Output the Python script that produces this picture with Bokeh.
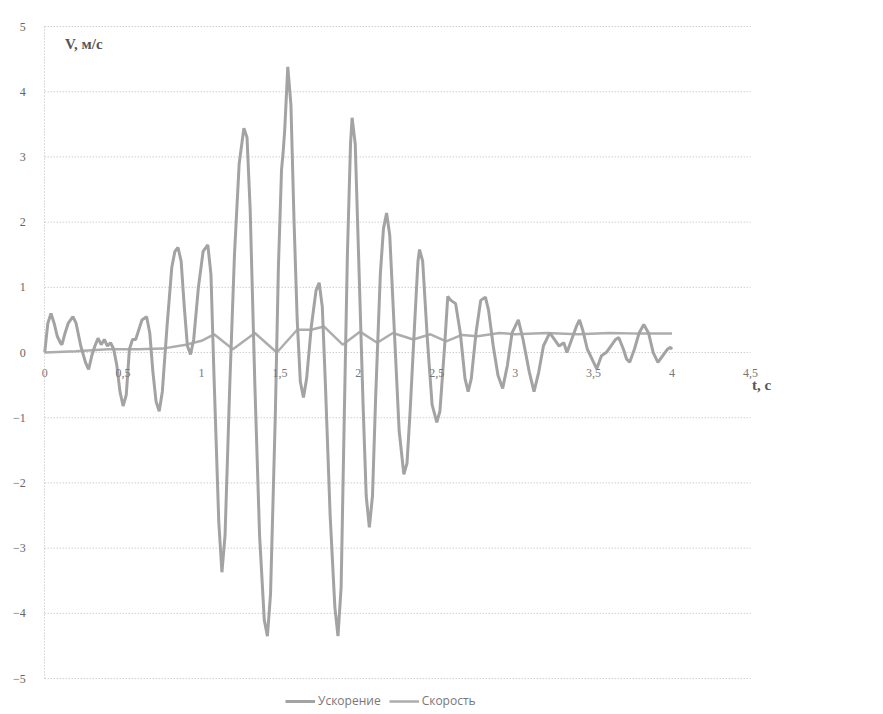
from bokeh.plotting import figure
from bokeh.models import Legend, LegendItem, Label, Range1d, FixedTicker
from bokeh.embed import file_html
from bokeh.resources import INLINE

# Ускорение (large oscillation)
t_acc = [0.00, 0.02, 0.04, 0.06, 0.08, 0.10, 0.11, 0.13, 0.15, 0.18, 0.20, 0.23, 0.26, 0.28,
         0.30, 0.32, 0.34, 0.36, 0.38, 0.40, 0.42, 0.44, 0.46, 0.48, 0.50, 0.52, 0.54, 0.56,
         0.58, 0.60, 0.62, 0.65, 0.67, 0.69, 0.71, 0.73, 0.75, 0.78, 0.81, 0.83, 0.85, 0.87,
         0.89, 0.91, 0.93, 0.95, 0.98, 1.01, 1.04, 1.06, 1.08, 1.11, 1.13, 1.15, 1.18, 1.21,
         1.24, 1.27, 1.29, 1.31, 1.34, 1.37, 1.40, 1.42, 1.44, 1.47, 1.49, 1.51, 1.52, 1.53,
         1.55, 1.57, 1.59, 1.61, 1.63, 1.65, 1.67, 1.70, 1.73, 1.75, 1.77, 1.79, 1.82, 1.85,
         1.87, 1.89, 1.91, 1.93, 1.95, 1.96, 1.98, 2.00, 2.03, 2.05, 2.07, 2.09, 2.11, 2.14,
         2.16, 2.18, 2.20, 2.23, 2.26, 2.29, 2.31, 2.33, 2.36, 2.38, 2.39, 2.41, 2.44, 2.47,
         2.50, 2.52, 2.55, 2.57, 2.59, 2.62, 2.65, 2.68, 2.70, 2.72, 2.75, 2.78, 2.81, 2.83,
         2.86, 2.89, 2.92, 2.95, 2.98, 3.02, 3.05, 3.09, 3.12, 3.15, 3.18, 3.22, 3.25, 3.28,
         3.31, 3.33, 3.36, 3.39, 3.41, 3.43, 3.46, 3.49, 3.52, 3.55, 3.58, 3.61, 3.64, 3.66,
         3.69, 3.71, 3.73, 3.76, 3.79, 3.82, 3.85, 3.88, 3.91, 3.94, 3.97, 3.99, 4.00]
v_acc = [0.00, 0.45, 0.60, 0.45, 0.25, 0.15, 0.12, 0.30, 0.45, 0.55, 0.45, 0.10, -0.15, -0.26,
         -0.05, 0.10, 0.22, 0.12, 0.20, 0.10, 0.15, 0.05, -0.20, -0.60, -0.82, -0.65, 0.05, 0.20,
         0.20, 0.35, 0.50, 0.55, 0.30, -0.30, -0.75, -0.90, -0.60, 0.40, 1.30, 1.55, 1.61, 1.40,
         0.70, 0.10, -0.03, 0.20, 1.00, 1.55, 1.65, 1.20, -0.40, -2.60, -3.37, -2.80, -0.50, 1.50,
         2.90, 3.44, 3.30, 2.20, -0.50, -2.80, -4.10, -4.35, -3.70, -1.00, 1.30, 2.80, 3.06, 3.40,
         4.38, 3.80, 2.00, 0.50, -0.45, -0.69, -0.40, 0.40, 0.95, 1.07, 0.70, -0.50, -2.50, -3.90,
         -4.35, -3.60, -1.00, 1.50, 3.20, 3.60, 3.20, 1.60, -0.80, -2.20, -2.68, -2.20, -0.70, 1.20,
         1.90, 2.14, 1.80, 0.30, -1.20, -1.87, -1.70, -0.90, 0.50, 1.40, 1.58, 1.40, 0.20, -0.80,
         -1.07, -0.90, 0.10, 0.86, 0.80, 0.75, 0.30, -0.40, -0.60, -0.40, 0.30, 0.80, 0.85, 0.65,
         0.10, -0.35, -0.55, -0.20, 0.30, 0.50, 0.20, -0.30, -0.60, -0.30, 0.10, 0.30, 0.20, 0.10,
         0.15, 0.00, 0.20, 0.40, 0.50, 0.35, 0.05, -0.10, -0.25, -0.05, 0.00, 0.10, 0.20, 0.23,
         0.05, -0.10, -0.15, 0.05, 0.30, 0.43, 0.30, 0.00, -0.15, -0.05, 0.05, 0.08, 0.05]

# Скорость (small smooth line)
t_vel = [0.00, 0.20, 0.40, 0.60, 0.75, 0.90, 1.00, 1.08, 1.20, 1.34, 1.48, 1.61, 1.70, 1.78,
         1.90, 2.01, 2.12, 2.22, 2.35, 2.46, 2.56, 2.66, 2.76, 2.90, 3.00, 3.20, 3.40, 3.60,
         3.80, 4.00]
v_vel = [0.00, 0.02, 0.05, 0.05, 0.06, 0.12, 0.18, 0.28, 0.05, 0.30, 0.00, 0.35, 0.35, 0.40,
         0.12, 0.32, 0.15, 0.30, 0.20, 0.28, 0.17, 0.27, 0.25, 0.30, 0.28, 0.30, 0.28, 0.30,
         0.29, 0.29]

x_ticks = [0, 0.5, 1, 1.5, 2, 2.5, 3, 3.5, 4, 4.5]
x_tick_labels = ["0", "0,5", "1", "1,5", "2", "2,5", "3", "3,5", "4", "4,5"]
y_ticks = [-5, -4, -3, -2, -1, 0, 1, 2, 3, 4, 5]

SERIF = "Liberation Serif"
GRID = "#b8b8b8"

p = figure(frame_width=792, frame_height=704, output_backend="svg", toolbar_location=None,
           x_range=Range1d(-0.25, 4.8), y_range=Range1d(-5.49, 5.307),
           min_border_left=5, min_border_right=83, min_border_top=6, min_border_bottom=0,
           background_fill_color="white", border_fill_color="white")
p.outline_line_color = None
p.xgrid.grid_line_color = None
p.ygrid.grid_line_color = None

# horizontal dotted gridlines spanning the tick extent of the time axis
p.segment(x0=[x_ticks[0]] * len(y_ticks), x1=[x_ticks[-1]] * len(y_ticks),
          y0=y_ticks, y1=y_ticks, line_color=GRID, line_dash="1 2", line_width=1)

# y axis at t = 0
p.yaxis.fixed_location = 0
p.yaxis.bounds = (y_ticks[0], y_ticks[-1])
p.yaxis.ticker = FixedTicker(ticks=y_ticks)
p.yaxis.axis_line_color = GRID
p.yaxis.axis_line_dash = "1 2"
p.yaxis.major_tick_line_color = None
p.yaxis.minor_tick_line_color = None
p.yaxis.major_label_text_font = SERIF
p.yaxis.major_label_text_font_size = "12px"
p.yaxis.major_label_text_color = "#666666"
p.yaxis.major_label_standoff = 13

# x axis along zero line
p.xaxis.fixed_location = 0
p.xaxis.ticker = FixedTicker(ticks=x_ticks)
p.xaxis.major_label_overrides = {t: s for t, s in zip(x_ticks, x_tick_labels)}
p.xaxis.axis_line_color = None
p.xaxis.major_tick_line_color = None
p.xaxis.minor_tick_line_color = None
p.xaxis.major_label_text_font = SERIF
p.xaxis.major_label_text_font_size = "12px"
p.xaxis.major_label_text_color = "#777777"
p.xaxis.major_label_standoff = 10

r_vel = p.line(t_vel, v_vel, line_color="#adadad", line_width=2.5)
r_acc = p.line(t_acc, v_acc, line_color="#a3a3a3", line_width=3)

p.add_layout(Label(x=0.13, y=4.85, text="V, м/с", text_font=SERIF, text_font_style="bold",
                   text_font_size="15px", text_color="#555555", text_baseline="top"))
p.add_layout(Label(x=4.51, y=-0.5, text="t, с", text_font=SERIF, text_font_style="bold",
                   text_font_size="15px", text_color="#555555", text_baseline="middle"))

legend = Legend(items=[LegendItem(label="Ускорение", renderers=[r_acc]),
                       LegendItem(label="Скорость", renderers=[r_vel])],
                orientation="horizontal", location=(280, 1),
                background_fill_alpha=0, border_line_color=None,
                label_text_font="Open Sans", label_text_font_size="12px",
                label_text_color="#777777", glyph_width=30, glyph_height=12,
                label_height=14, label_standoff=3, spacing=8, padding=0, margin=0)
p.add_layout(legend, "center")

open("out.html", "w").write(file_html(p, INLINE))
